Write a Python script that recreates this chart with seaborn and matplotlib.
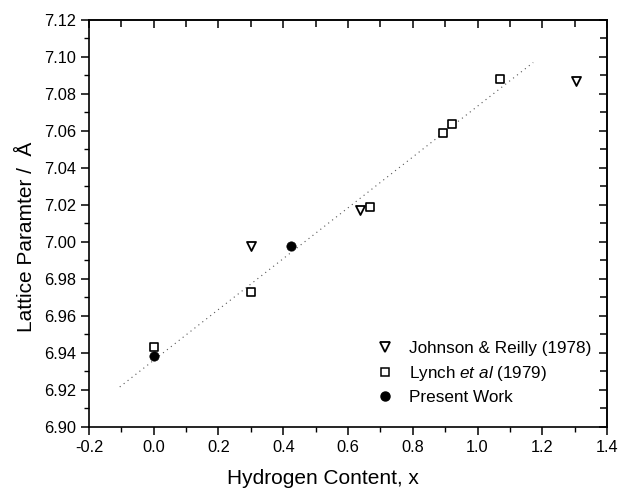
import numpy as np
import pandas as pd
import matplotlib
matplotlib.use("Agg")
import matplotlib.pyplot as plt
from matplotlib.ticker import MultipleLocator, FormatStrFormatter
from matplotlib.lines import Line2D
import seaborn as sns

# Lattice parameter vs hydrogen content
johnson_x = [0.30, 0.637, 1.305]
johnson_y = [6.998, 7.017, 7.087]

lynch_x = [0.0, 0.30, 0.668, 0.893, 0.922, 1.068]
lynch_y = [6.943, 6.973, 7.019, 7.059, 7.064, 7.088]

present_x = [0.0, 0.425]
present_y = [6.938, 6.998]

fit_x = [-0.105, 1.172]
fit_y = [6.9215, 7.097]

labels = ["Johnson & Reilly (1978)", r"Lynch $\it{et\ al}$ (1979)", "Present Work"]

sns.set_theme(style="ticks")
plt.rcParams["font.family"] = ["Liberation Sans", "DejaVu Sans"]
plt.rcParams["mathtext.fontset"] = "custom"
plt.rcParams["mathtext.rm"] = "Liberation Sans"
plt.rcParams["mathtext.it"] = "Liberation Sans:italic"
plt.rcParams["text.color"] = "black"
plt.rcParams["axes.labelcolor"] = "black"
plt.rcParams["xtick.color"] = "black"
plt.rcParams["ytick.color"] = "black"

fig = plt.figure(figsize=(6.21, 4.91), dpi=100)
ax = fig.add_axes([0.1433, 0.131, 0.8342, 0.8283])

sns.lineplot(x=fit_x, y=fit_y, ax=ax, color="#555555", linestyle=(0, (1, 3.5)),
             linewidth=0.8)

df_j = pd.DataFrame({"x": johnson_x, "y": johnson_y})
df_l = pd.DataFrame({"x": lynch_x, "y": lynch_y})
df_p = pd.DataFrame({"x": present_x, "y": present_y})

sns.scatterplot(data=df_j, x="x", y="y", ax=ax, marker="v", s=42,
                facecolor="white", edgecolor="black", linewidth=1.3, zorder=3)
sns.scatterplot(data=df_l, x="x", y="y", ax=ax, marker="s", s=34,
                facecolor="white", edgecolor="black", linewidth=1.2, zorder=3)
sns.scatterplot(data=df_p, x="x", y="y", ax=ax, marker="o", s=45,
                color="black", edgecolor="black", linewidth=0.5, zorder=4)

ax.set_xlim(-0.2, 1.4)
ax.set_ylim(6.90, 7.12)
ax.xaxis.set_major_locator(MultipleLocator(0.2))
ax.xaxis.set_minor_locator(MultipleLocator(0.1))
ax.yaxis.set_major_locator(MultipleLocator(0.02))
ax.yaxis.set_minor_locator(MultipleLocator(0.01))
ax.xaxis.set_major_formatter(FormatStrFormatter("%.1f"))
ax.yaxis.set_major_formatter(FormatStrFormatter("%.2f"))

for s in ax.spines.values():
    s.set_visible(True)
    s.set_linewidth(1.2)
    s.set_color("black")

ax.tick_params(which="major", direction="out", length=6, width=1.1, labelsize=11.8,
               colors="black", pad=3.5)
ax.tick_params(which="minor", direction="out", length=3.6, width=1.0)
# mirrored inward ticks on top and right
ax2 = ax.secondary_xaxis("top")
ax2.xaxis.set_major_locator(MultipleLocator(0.2))
ax2.xaxis.set_minor_locator(MultipleLocator(0.1))
ax2.tick_params(which="both", direction="in", length=6, width=1.1, labeltop=False)
ax2.tick_params(which="minor", length=5)
ax3 = ax.secondary_yaxis("right")
ax3.yaxis.set_major_locator(MultipleLocator(0.02))
ax3.yaxis.set_minor_locator(MultipleLocator(0.01))
ax3.tick_params(which="both", direction="in", length=6, width=1.1, labelright=False)
ax3.tick_params(which="minor", length=5)

ax.set_xlabel("Hydrogen Content, x", fontsize=15)
ax.set_ylabel("Lattice Paramter /  Å", fontsize=15)
ax.xaxis.set_label_coords(0.452, -0.103)
ax.yaxis.set_label_coords(-0.102, 0.468)

handles = [
    Line2D([], [], marker="v", linestyle="none", markersize=6.5,
           markerfacecolor="white", markeredgecolor="black", markeredgewidth=1.3),
    Line2D([], [], marker="s", linestyle="none", markersize=5.5,
           markerfacecolor="white", markeredgecolor="black", markeredgewidth=1.1),
    Line2D([], [], marker="o", linestyle="none", markersize=6.5,
           markerfacecolor="black", markeredgecolor="black"),
]
ax.legend(handles, labels, loc="lower right", bbox_to_anchor=(1.0, 0.015),
          frameon=False, fontsize=12.3, handletextpad=0.95, labelspacing=0.45,
          handlelength=1.0)

fig.savefig("out.png", dpi=100)
